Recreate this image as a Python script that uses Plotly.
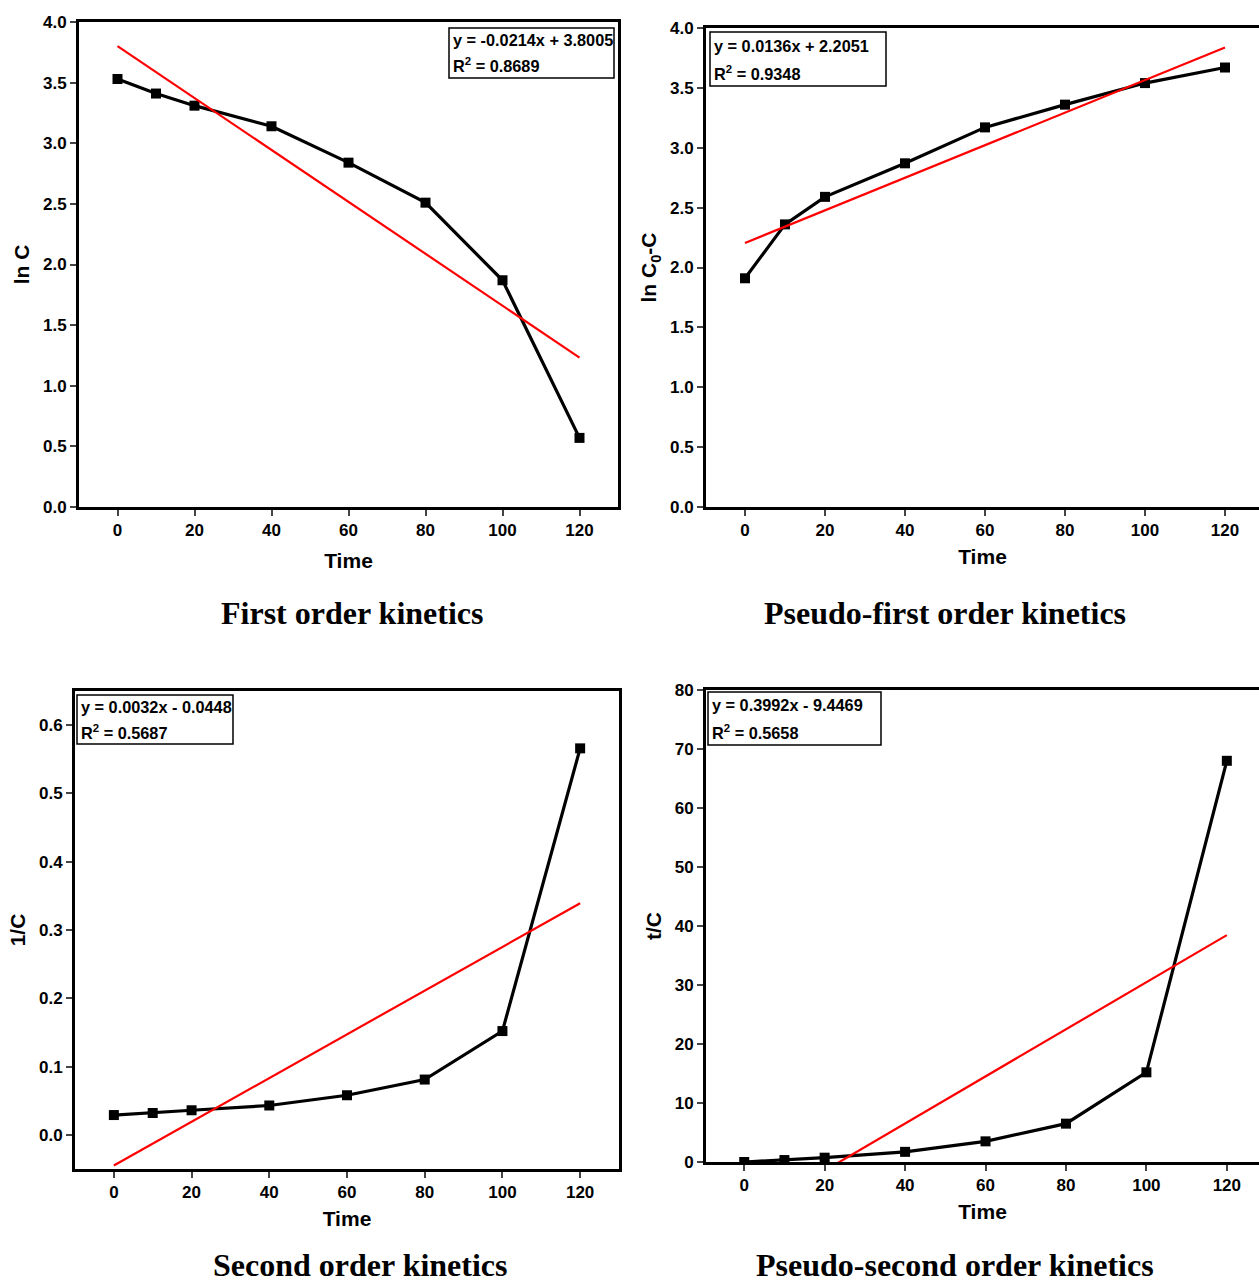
import plotly.graph_objects as go

# Sampling times (min)
time_min = [0, 10, 20, 40, 60, 80, 100, 120]

# Transformed concentration series
ln_c = [3.53, 3.41, 3.31, 3.14, 2.84, 2.51, 1.87, 0.57]
ln_c0_minus_c = [1.91, 2.36, 2.59, 2.87, 3.17, 3.36, 3.54, 3.67]
inv_c = [0.029, 0.032, 0.036, 0.043, 0.058, 0.081, 0.152, 0.566]
t_over_c = [0.0, 0.33, 0.73, 1.72, 3.5, 6.5, 15.2, 68.0]

# Linear regression results for each model
fit_slopes = [-0.0214, 0.0136, 0.0032, 0.3992]
fit_intercepts = [3.8005, 2.2051, -0.0448, -9.4469]
fit_r2 = [0.8689, 0.9348, 0.5687, 0.5658]
fit_x = [0, 120]

panel_titles = ["First order kinetics", "Pseudo-first order kinetics",
                "Second order kinetics", "Pseudo-second order kinetics"]
y_titles = ["ln C", "ln C<sub>0</sub>-C", "1/C", "t/C"]
x_ticks = [0, 20, 40, 60, 80, 100, 120]

W, H = 1259, 1283
SANS = "Liberation Sans, Arial, sans-serif"
TICK_FONT = dict(family=SANS, size=17, color="black", weight="bold")
LABEL_FONT = dict(family=SANS, size=21, color="black", weight="bold")
BOX_FONT = dict(family=SANS, size=16.3, color="black", weight="bold")
TITLE_FONT = dict(family="Liberation Serif, Times New Roman, serif", size=32,
                  color="black", weight="bold")

series = [ln_c, ln_c0_minus_c, inv_c, t_over_c]

# pixel boxes (left, right, top, bottom), axis ranges, equation box and title spots
panels = [
    dict(box=(79, 618, 22, 507), xr=[-10, 130], yr=[0, 4], dy=0.5, fmt=".1f",
         ymirror=True, eq_box=(449, 614, 28, 78), title_xy=(352, 613), xstand=14),
    dict(box=(706, 1259, 28, 507), xr=[-9.75, 128.5], yr=[0, 4], dy=0.5, fmt=".1f",
         ymirror=False, eq_box=(710, 886, 32, 86), title_xy=(945, 613), xstand=10),
    dict(box=(75, 619, 691, 1169), xr=[-10, 130], yr=[-0.05, 0.65], dy=0.1, fmt=".1f",
         ymirror=True, eq_box=(77, 233, 695, 744), title_xy=(360, 1265), xstand=10),
    dict(box=(706, 1259, 690, 1162), xr=[-9.5, 128], yr=[0, 80], dy=10, fmt="d",
         ymirror=False, eq_box=(708, 881, 692, 745), title_xy=(955, 1265), xstand=10),
]

fig = go.Figure()
layout = dict(width=W, height=H, margin=dict(l=0, r=0, t=0, b=0, autoexpand=False),
              paper_bgcolor="white", plot_bgcolor="white", showlegend=False)
annotations = []
shapes = []


def px(x):
    return x / W


def py(y):
    return 1 - y / H


for i, p in enumerate(panels):
    n = "" if i == 0 else str(i + 1)
    xa, ya = "x" + n, "y" + n
    left, right, top, bottom = p["box"]

    fig.add_trace(go.Scatter(
        x=time_min, y=series[i], xaxis=xa, yaxis=ya, mode="lines+markers",
        line=dict(color="black", width=3.2),
        marker=dict(symbol="square", size=10, color="black")))
    fit_y = [fit_slopes[i] * x + fit_intercepts[i] for x in fit_x]
    fig.add_trace(go.Scatter(
        x=fit_x, y=fit_y, xaxis=xa, yaxis=ya, mode="lines",
        line=dict(color="#ff0000", width=2.2)))

    y0, y1 = p["yr"]
    yt = []
    v = 0.0 if y0 <= 0 else y0
    while v <= y1 + 1e-9:
        yt.append(round(v, 4))
        v += p["dy"]

    layout["xaxis" + n] = dict(
        domain=[px(left), min(px(right), 1.0)], range=p["xr"], anchor=ya,
        tickvals=x_ticks, ticks="outside", ticklen=6, tickwidth=2,
        showline=True, linewidth=3, linecolor="black", mirror=True,
        showgrid=False, zeroline=False, tickfont=TICK_FONT, automargin=False,
        title=dict(text="Time", font=LABEL_FONT, standoff=p["xstand"]))
    layout["yaxis" + n] = dict(
        domain=[py(bottom), py(top)], range=p["yr"], anchor=xa,
        tickvals=yt, tickformat=p["fmt"], ticks="outside", ticklen=6, tickwidth=2,
        showline=True, linewidth=3, linecolor="black", mirror=p["ymirror"],
        showgrid=False, zeroline=False, tickfont=TICK_FONT, automargin=False,
        title=dict(text=y_titles[i], font=LABEL_FONT, standoff=8))

    # regression equation box
    bl, br, bt, bb = p["eq_box"]
    shapes.append(dict(type="rect", xref="paper", yref="paper",
                       x0=px(bl), x1=px(br), y0=py(bb), y1=py(bt),
                       line=dict(color="black", width=1.5), fillcolor="white",
                       layer="above"))
    sign = "+" if fit_intercepts[i] >= 0 else "-"
    eq = "y = %.4fx %s %.4f" % (fit_slopes[i], sign, abs(fit_intercepts[i]))
    r2 = "R<sup>2</sup> = %.4f" % fit_r2[i]
    h = bb - bt
    for text, frac in ((eq, 0.25), (r2, 0.75)):
        annotations.append(dict(
            text=text, xref="paper", yref="paper", x=px(bl + 2), y=py(bt + frac * h),
            xanchor="left", yanchor="middle", align="left", showarrow=False,
            font=BOX_FONT))

    tx, ty = p["title_xy"]
    annotations.append(dict(
        text=panel_titles[i], xref="paper", yref="paper",
        x=px(tx), y=py(ty), xanchor="center", yanchor="middle",
        showarrow=False, font=TITLE_FONT))

layout["annotations"] = annotations
layout["shapes"] = shapes
fig.update_layout(**layout)
fig.write_html("out.html")
